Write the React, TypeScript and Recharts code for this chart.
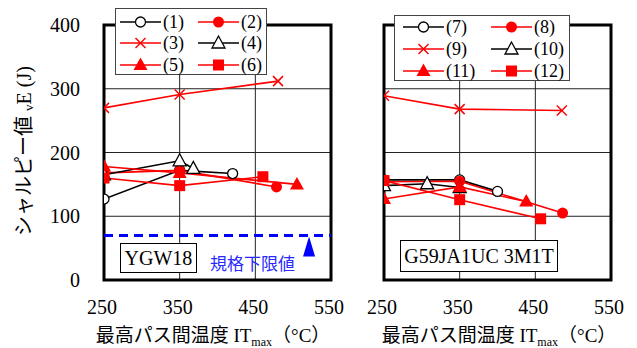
import React from 'react'
import {
  LineChart,
  Line,
  XAxis,
  YAxis,
  CartesianGrid,
  ReferenceLine,
  ReferenceDot,
  ReferenceArea,
} from 'recharts'

const xTicks = [250, 350, 450, 550]
const yTicks = [0, 100, 200, 300, 400]
const limitValue = 70

// YGW18 (t = max interpass temp, e = Charpy energy)
const s1 = [{ t: 250, e: 127 }, { t: 350, e: 172 }, { t: 420, e: 167 }]
const s2 = [{ t: 250, e: 168 }, { t: 350, e: 172 }, { t: 478, e: 146 }]
const s3 = [{ t: 250, e: 270 }, { t: 350, e: 291 }, { t: 480, e: 312 }]
const s4 = [{ t: 250, e: 165 }, { t: 350, e: 187 }, { t: 368, e: 175 }]
const s5 = [{ t: 250, e: 178 }, { t: 350, e: 168 }, { t: 505, e: 150 }]
const s6 = [{ t: 250, e: 160 }, { t: 350, e: 148 }, { t: 460, e: 162 }]

// G59JA1UC 3M1T
const s7 = [{ t: 250, e: 157 }, { t: 350, e: 157 }, { t: 400, e: 139 }]
const s8 = [{ t: 250, e: 154 }, { t: 350, e: 155 }, { t: 486, e: 105 }]
const s9 = [{ t: 250, e: 289 }, { t: 350, e: 268 }, { t: 485, e: 266 }]
const s10 = [{ t: 250, e: 148 }, { t: 307, e: 151 }, { t: 350, e: 145 }]
const s11 = [{ t: 250, e: 127 }, { t: 350, e: 146 }, { t: 438, e: 123 }]
const s12 = [{ t: 250, e: 156 }, { t: 350, e: 126 }, { t: 457, e: 96 }]

type Kind = 'openCircle' | 'dot' | 'cross' | 'openTri' | 'tri' | 'square'
type Series = { name: string; data: { t: number; e: number }[]; kind: Kind; color: string }

const RED = '#ff0000'
const BLUE = '#0000ff'
const SERIF = 'Liberation Serif, Noto Sans CJK JP, serif'

const leftSeries: Series[] = [
  { name: '(1)', data: s1, kind: 'openCircle', color: '#000' },
  { name: '(2)', data: s2, kind: 'dot', color: RED },
  { name: '(3)', data: s3, kind: 'cross', color: RED },
  { name: '(4)', data: s4, kind: 'openTri', color: '#000' },
  { name: '(5)', data: s5, kind: 'tri', color: RED },
  { name: '(6)', data: s6, kind: 'square', color: RED },
]

const rightSeries: Series[] = [
  { name: '(7)', data: s7, kind: 'openCircle', color: '#000' },
  { name: '(8)', data: s8, kind: 'dot', color: RED },
  { name: '(9)', data: s9, kind: 'cross', color: RED },
  { name: '(10)', data: s10, kind: 'openTri', color: '#000' },
  { name: '(11)', data: s11, kind: 'tri', color: RED },
  { name: '(12)', data: s12, kind: 'square', color: RED },
]

function Marker({ kind, cx, cy }: { kind: Kind; cx: number; cy: number }) {
  switch (kind) {
    case 'openCircle':
      return <circle cx={cx} cy={cy} r={5} fill="#fff" stroke="#000" strokeWidth={1.3} />
    case 'dot':
      return <circle cx={cx} cy={cy} r={5.5} fill={RED} />
    case 'cross':
      return (
        <g stroke={RED} strokeWidth={1.5}>
          <line x1={cx - 5} y1={cy - 5} x2={cx + 5} y2={cy + 5} />
          <line x1={cx - 5} y1={cy + 5} x2={cx + 5} y2={cy - 5} />
        </g>
      )
    case 'openTri':
      return (
        <polygon
          points={`${cx},${cy - 7} ${cx - 6.5},${cy + 5} ${cx + 6.5},${cy + 5}`}
          fill="#fff"
          stroke="#000"
          strokeWidth={1.3}
        />
      )
    case 'tri':
      return <polygon points={`${cx},${cy - 7.5} ${cx - 7},${cy + 5} ${cx + 7},${cy + 5}`} fill={RED} />
    default:
      return <rect x={cx - 5.5} y={cy - 5.5} width={11} height={11} fill={RED} />
  }
}

// tick text drawn by hand so the serif font is surely used
function XTick({ x, y, payload }: any) {
  return (
    <text x={x - 2} y={y + 32} textAnchor="middle" fontSize={20} fill="#000" style={{ fontFamily: SERIF }}>
      {payload.value}
    </text>
  )
}

function YTick({ x, y, payload }: any) {
  return (
    <text x={x - 22} y={y} textAnchor="end" dominantBaseline="central" fontSize={20} fill="#000" style={{ fontFamily: SERIF }}>
      {payload.value}
    </text>
  )
}

function LegendBox({ series, left, top, width, height, cols, rows }: {
  series: Series[]; left: number; top: number; width: number; height: number
  cols: number[]; rows: number[]
}) {
  return (
    <svg style={{ position: 'absolute', left, top }} width={width} height={height}>
      <rect x={0.5} y={0.5} width={width - 1} height={height - 1} fill="#fff" stroke="#444" />
      {series.map((s, i) => {
        const x = cols[i % 2]
        const y = rows[Math.floor(i / 2)]
        return (
          <g key={s.name}>
            <line x1={x} y1={y} x2={x + 41} y2={y} stroke={s.color} strokeWidth={1.6} />
            <Marker kind={s.kind} cx={x + 20.5} cy={y} />
            <text x={x + 43} y={y} dominantBaseline="central" fontSize={18} style={{ fontFamily: SERIF }}>
              {s.name}
            </text>
          </g>
        )
      })}
    </svg>
  )
}

function Panel({ series, width, margin, showYTicks, children }: {
  series: Series[]; width: number
  margin: { top: number; right: number; bottom: number; left: number }
  showYTicks: boolean; children?: React.ReactNode
}) {
  return (
    <LineChart width={width} height={348} margin={margin}>
      <CartesianGrid stroke="#222" strokeWidth={1} />
      <XAxis
        type="number"
        dataKey="t"
        domain={[250, 550]}
        ticks={xTicks}
        axisLine={false}
        tickLine={false}
        tickSize={0}
        height={30}
        interval={0}
        tick={<XTick />}
        allowDataOverflow
      />
      <YAxis
        type="number"
        domain={[0, 400]}
        ticks={yTicks}
        hide={!showYTicks}
        width={104}
        axisLine={false}
        tickLine={false}
        tickSize={0}
        interval={0}
        tick={<YTick />}
      />
      <ReferenceArea x1={250} x2={550} y1={0} y2={400} fill="none" stroke="#000" strokeWidth={3} />
      {children}
      {series.map((s) => (
        <Line
          key={s.name}
          data={s.data}
          dataKey="e"
          name={s.name}
          type="linear"
          stroke={s.color}
          strokeWidth={1.6}
          isAnimationActive={false}
          activeDot={false}
          dot={(p: any) => <Marker key={`${s.name}-${p.index}`} kind={s.kind} cx={p.cx} cy={p.cy} />}
        />
      ))}
    </LineChart>
  )
}

export default function App() {
  return (
    <div style={{ position: 'absolute', left: 0, top: 0, width: 637, height: 348, background: '#fff', fontFamily: SERIF }}>
      <div style={{ position: 'absolute', left: 0, top: 0 }}>
        <Panel
          series={leftSeries}
          width={360}
          margin={{ top: 25, right: 29, bottom: 38, left: 0 }}
          showYTicks
        >
          <ReferenceLine y={limitValue} stroke={BLUE} strokeWidth={3} strokeDasharray="9 6" />
          <ReferenceDot
            x={521}
            y={51}
            r={0}
            shape={(p: any) => (
              <polygon points={`${p.cx},${p.cy - 11} ${p.cx - 6},${p.cy + 9} ${p.cx + 6},${p.cy + 9}`} fill={BLUE} />
            )}
          />
        </Panel>
      </div>
      <div style={{ position: 'absolute', left: 360, top: 0 }}>
        <Panel
          series={rightSeries}
          width={277}
          margin={{ top: 25, right: 26, bottom: 38, left: 24 }}
          showYTicks={false}
        />
      </div>

      <LegendBox series={leftSeries} left={115} top={8} width={152} height={67} cols={[5, 83]} rows={[14, 35, 57]} />
      <LegendBox series={rightSeries} left={394} top={15} width={176} height={66} cols={[9, 97]} rows={[12, 34, 56]} />

      <div style={{ position: 'absolute', left: 120, top: 243, width: 77, height: 30, boxSizing: 'border-box', border: '1px solid #000', background: '#fff', fontSize: 20, lineHeight: '28px', textAlign: 'center' }}>
        YGW18
      </div>
      <div style={{ position: 'absolute', left: 210, top: 254, color: '#2a2aff', fontSize: 17, lineHeight: '18px', fontFamily: 'Noto Sans CJK JP, sans-serif', whiteSpace: 'nowrap' }}>
        規格下限値
      </div>
      <div style={{ position: 'absolute', left: 400, top: 240, width: 158, height: 32, boxSizing: 'border-box', border: '1px solid #000', background: '#fff', fontSize: 20, lineHeight: '30px', textAlign: 'center', whiteSpace: 'nowrap' }}>
        G59JA1UC 3M1T
      </div>

      <svg style={{ position: 'absolute', left: 0, top: 0, pointerEvents: 'none', fontFamily: SERIF }} width={637} height={348}>
        <text transform="translate(24,151) rotate(-90)" textAnchor="middle" dominantBaseline="central" fontSize={20}>
          シャルピー値 <tspan fontSize={13} dy={4}>v</tspan>
          <tspan dy={-4}>E (J)</tspan>
        </text>
        <text x={213} y={342} textAnchor="middle" fontSize={19}>
          最高パス間温度 IT<tspan fontSize={12} dy={4}>max</tspan>
          <tspan dy={-4}>（°C）</tspan>
        </text>
        <text x={499} y={342} textAnchor="middle" fontSize={19}>
          最高パス間温度 IT<tspan fontSize={12} dy={4}>max</tspan>
          <tspan dy={-4}>（°C）</tspan>
        </text>
      </svg>
    </div>
  )
}
